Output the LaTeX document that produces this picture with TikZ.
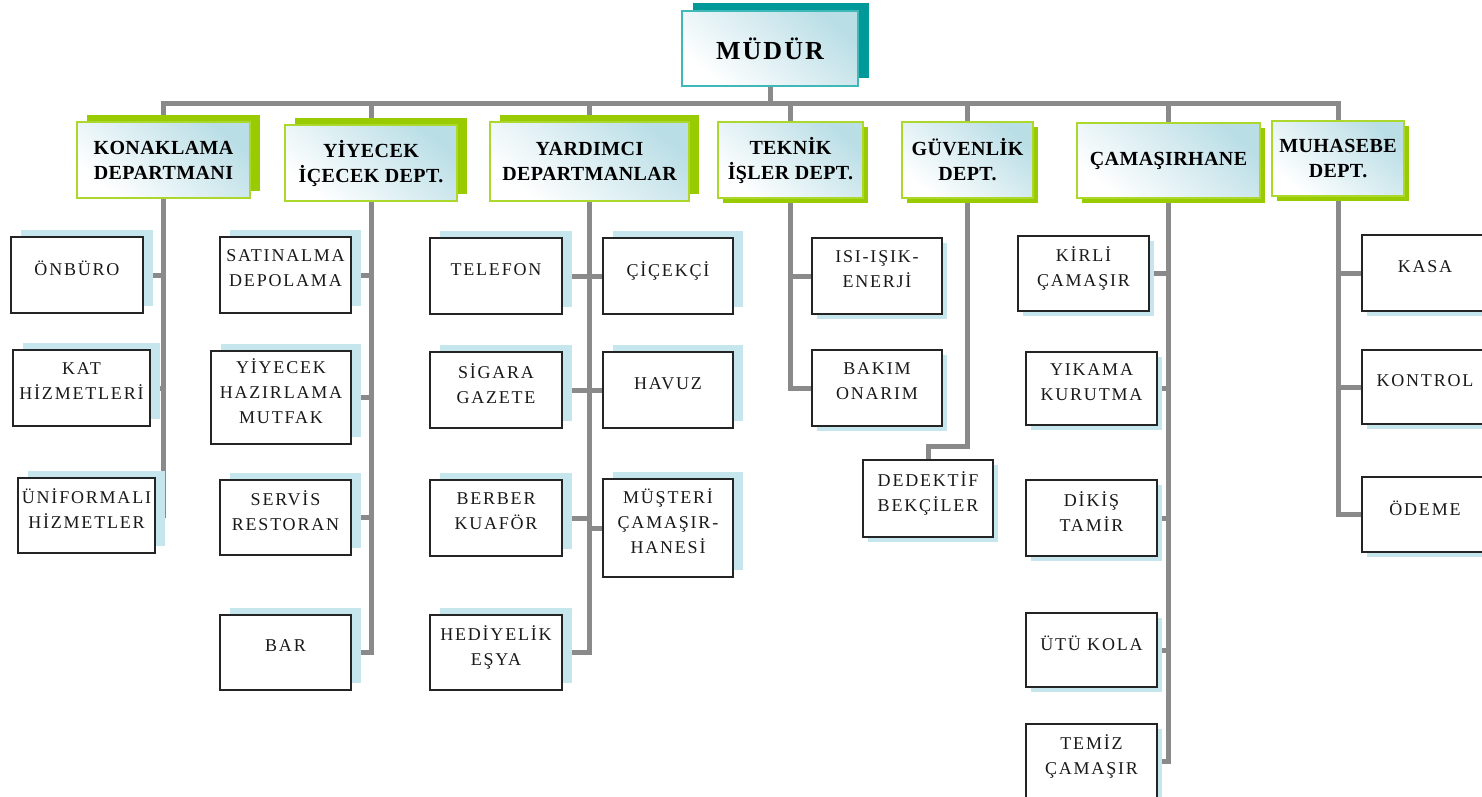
\documentclass[tikz,border=0pt]{standalone}
\usepackage{fontspec}
\setmainfont{Liberation Serif}
\newfontfamily\leaffont[LetterSpace=10]{Liberation Serif}
\newfontfamily\deptfont[LetterSpace=2]{Liberation Serif}
\newfontfamily\headfont[LetterSpace=8]{Liberation Serif}
\usetikzlibrary{shadows,backgrounds}

\definecolor{linkgray}{RGB}{138,138,138}
\definecolor{tealedge}{RGB}{64,184,184}
\definecolor{tealshadow}{RGB}{0,153,153}
\definecolor{limeedge}{RGB}{172,216,44}
\definecolor{limeshadow}{RGB}{153,204,0}
\definecolor{paleblue}{RGB}{186,222,230}
\definecolor{cyanshadow}{RGB}{196,230,236}
\definecolor{leafedge}{RGB}{36,36,36}

\begin{document}
\begin{tikzpicture}[x=1pt,y=-1pt,
  sz/.style 2 args={minimum width=#1pt, minimum height=#2pt},
  glow/.style={top color=paleblue, bottom color=white, shading angle=-40},
  headbox/.style={glow, draw=tealedge, line width=2pt, inner sep=0pt,
    general shadow={fill=tealshadow, shadow xshift=11pt, shadow yshift=8pt},
    font=\headfont\bfseries\fontsize{26}{30}\selectfont},
  deptbox/.style={glow, draw=limeedge, line width=2pt, inner sep=0pt, align=center,
    font=\deptfont\bfseries\fontsize{20}{25}\selectfont},
  deptUR/.style={deptbox, general shadow={fill=limeshadow, shadow xshift=10pt, shadow yshift=7pt}},
  deptDR/.style={deptbox, general shadow={fill=limeshadow, shadow xshift=5pt, shadow yshift=-5pt}},
  leafbox/.style={fill=white, draw=leafedge, line width=2pt, inner sep=0pt, align=center,
    text depth=13pt, text=black!90, font=\leaffont\fontsize{18}{25}\selectfont},
  leafUR/.style={leafbox, general shadow={fill=cyanshadow, shadow xshift=10pt, shadow yshift=7pt}},
  leafDR/.style={leafbox, general shadow={fill=cyanshadow, shadow xshift=5pt, shadow yshift=-5pt}},
  link/.style={draw=linkgray, line width=5pt}
]
\useasboundingbox (0,0) rectangle (1482,796);
\clip (0,0) rectangle (1482,796);

% director
\node[headbox, sz={176}{75}] (mud) at (770,48.5) {MÜDÜR};

% departments
\node[deptUR, sz={173}{76}] (kon) at (163.5,160) {KONAKLAMA\\DEPARTMANI};
\node[deptUR, sz={172}{76}] (yiy) at (371,163) {YİYECEK\\İÇECEK DEPT.};
\node[deptUR, sz={199}{79}] (yar) at (589.5,161) {YARDIMCI\\DEPARTMANLAR};
\node[deptDR, sz={145}{76}] (tek) at (790.5,160) {TEKNİK\\İŞLER DEPT.};
\node[deptDR, sz={131}{76}] (guv) at (967.5,160) {GÜVENLİK\\DEPT.};
\node[deptDR, sz={183}{75}] (cam) at (1168.5,160.5) {ÇAMAŞIRHANE};
\node[deptDR, sz={132}{75}] (muh) at (1338,158.5) {MUHASEBE\\DEPT.};

% accommodation
\node[leafUR, sz={132}{76}] (onb) at (77,275) {ÖNBÜRO};
\node[leafUR, sz={137}{76}] (kat) at (81.5,388) {KAT\\HİZMETLERİ};
\node[leafUR, sz={137}{75}] (uni) at (86.5,515.5) {ÜNİFORMALI\\HİZMETLER};

% food and beverage
\node[leafUR, sz={131}{76}] (sat) at (285.5,275) {SATINALMA\\DEPOLAMA};
\node[leafUR, sz={140}{93}] (yhm) at (281,397.5) {YİYECEK\\HAZIRLAMA\\MUTFAK};
\node[leafUR, sz={131}{75}] (ser) at (285.5,517.5) {SERVİS\\RESTORAN};
\node[leafUR, sz={131}{75}] (bar) at (285.5,652.5) {BAR};

% support departments
\node[leafUR, sz={132}{76}] (tel) at (496,276) {TELEFON};
\node[leafUR, sz={132}{76}] (sig) at (496,390) {SİGARA\\GAZETE};
\node[leafUR, sz={132}{76}] (ber) at (496,518) {BERBER\\KUAFÖR};
\node[leafUR, sz={132}{75}] (hed) at (496,652.5) {HEDİYELİK\\EŞYA};
\node[leafUR, sz={130}{76}] (cic) at (668,276) {ÇİÇEKÇİ};
\node[leafUR, sz={130}{76}] (hav) at (668,390) {HAVUZ};
\node[leafUR, sz={130}{98}] (mus) at (668,528) {MÜŞTERİ\\ÇAMAŞIR-\\HANESİ};

% technical
\node[leafDR, sz={130}{76}] (isi) at (877,276) {ISI-IŞIK-\\ENERJİ};
\node[leafDR, sz={130}{76}] (bak) at (877,388) {BAKIM\\ONARIM};

% security
\node[leafDR, sz={130}{77}] (ded) at (928,498.5) {DEDEKTİF\\BEKÇİLER};

% laundry
\node[leafDR, sz={131}{75}] (kir) at (1083.5,273.5) {KİRLİ\\ÇAMAŞIR};
\node[leafDR, sz={131}{73}] (yik) at (1091.5,388.5) {YIKAMA\\KURUTMA};
\node[leafDR, sz={131}{76}] (dik) at (1091.5,518) {DİKİŞ\\TAMİR};
\node[leafDR, sz={131}{74}] (utu) at (1091.5,650) {ÜTÜ KOLA};
\node[leafDR, sz={131}{74}] (tem) at (1091.5,761) {TEMİZ\\ÇAMAŞIR};

% accounting
\node[leafDR, sz={126}{76}] (kas) at (1425,273) {KASA};
\node[leafDR, sz={126}{74}] (ktr) at (1425,387) {KONTROL};
\node[leafDR, sz={126}{75}] (ode) at (1425,514.5) {ÖDEME};

\coordinate (barL) at (161,103);
\coordinate (barR) at (1341,103);

\begin{pgfonlayer}{background}
  % main bus
  \draw[link] (barL) -- (barR);
  \draw[link] (mud.south) -- (mud.south |- barL);
  \foreach \d in {kon,yiy,yar,tek,guv,cam,muh}
    \draw[link] (\d.north) -- (\d.north |- barL);
  % accommodation spine
  \draw[link] (kon.south) |- (uni.east);
  \foreach \l in {onb,kat}
    \draw[link] (\l.east) -- (\l.east -| kon.south);
  % food and beverage spine
  \draw[link] (yiy.south) |- (bar.east);
  \foreach \l in {sat,yhm,ser}
    \draw[link] (\l.east) -- (\l.east -| yiy.south);
  % support spine
  \draw[link] (yar.south) |- (hed.east);
  \foreach \l in {tel,sig,ber}
    \draw[link] (\l.east) -- (\l.east -| yar.south);
  \foreach \l in {cic,hav,mus}
    \draw[link] (\l.west) -- (\l.west -| yar.south);
  % technical spine
  \draw[link] (tek.south) |- (bak.west);
  \draw[link] (isi.west) -- (isi.west -| tek.south);
  % security
  \draw[link] (guv.south) -- ++(0,247) -| (ded.north);
  % laundry spine
  \draw[link] (cam.south) |- (tem.east);
  \foreach \l in {kir,yik,dik,utu}
    \draw[link] (\l.east) -- (\l.east -| cam.south);
  % accounting spine
  \draw[link] (muh.south) |- (ode.west);
  \foreach \l in {kas,ktr}
    \draw[link] (\l.west) -- (\l.west -| muh.south);
\end{pgfonlayer}
\end{tikzpicture}
\end{document}
